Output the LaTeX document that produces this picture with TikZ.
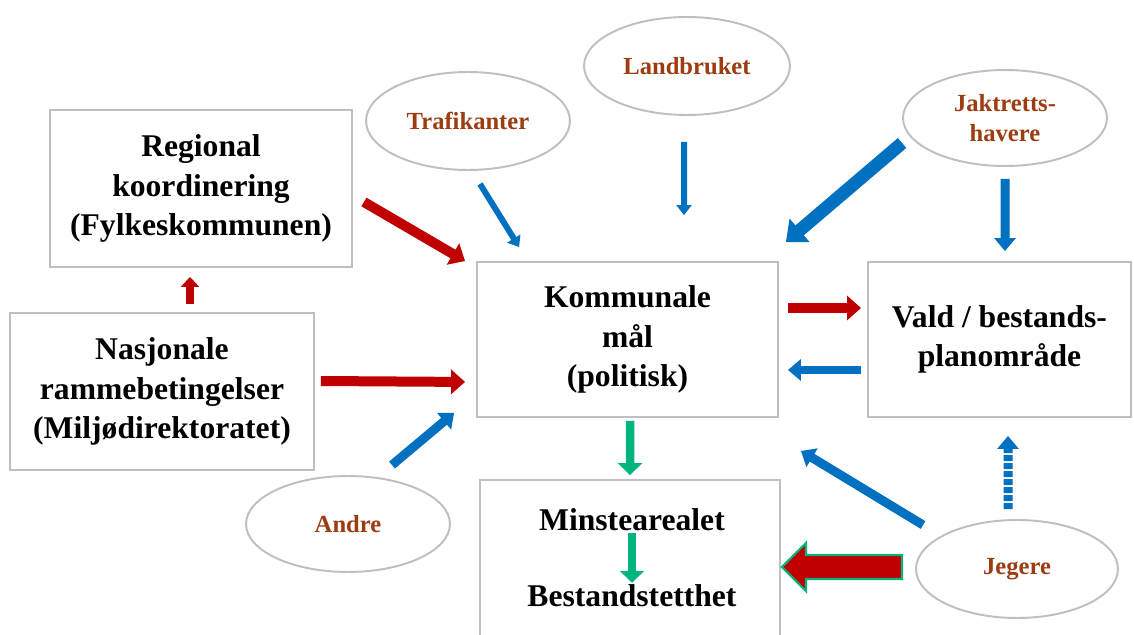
\documentclass[tikz,border=0pt]{standalone}
\usepackage{fontspec}
\setmainfont{Liberation Serif}
\usetikzlibrary{shapes.geometric, shapes.arrows, arrows.meta, positioning, calc}
\definecolor{framegray}{RGB}{191,191,191}
\definecolor{arrred}{RGB}{192,0,0}
\definecolor{arrblue}{RGB}{0,112,192}
\definecolor{arrgreen}{RGB}{0,180,125}
\definecolor{labelbrown}{RGB}{156,60,16}

\begin{document}
\begin{tikzpicture}[
    x=0.02cm, y=-0.02cm,
    box/.style={rectangle, draw=framegray, line width=1.1pt, fill=white, align=center,
                font=\fontsize{18}{22.5}\selectfont\bfseries},
    oval/.style={ellipse, draw=framegray, line width=1.1pt, fill=white, align=center, inner sep=0pt,
                 text=labelbrown, font=\fontsize{14}{17}\selectfont\bfseries},
    plain/.style={inner sep=1pt, font=\fontsize{18}{22.5}\selectfont\bfseries},
    redarr/.style={draw=arrred, line width=0.2cm, -{Triangle[length=0.28cm, width=0.48cm]}},
    bluethin/.style={draw=arrblue, line width=0.12cm, -{Triangle[length=0.2cm, width=0.3cm]}},
    bluearr/.style={draw=arrblue, line width=0.18cm, -{Triangle[length=0.26cm, width=0.42cm]}},
    bluethick/.style={draw=arrblue, line width=0.26cm, -{Triangle[length=0.36cm, width=0.6cm]}},
    greenarr/.style={draw=arrgreen, line width=0.17cm, -{Triangle[length=0.24cm, width=0.48cm]}},
    bigarr/.style={single arrow, shape border rotate=180, fill=arrred, draw=arrgreen, line width=1.2pt,
                   inner sep=0.22cm, minimum height=2.4cm, minimum width=0.92cm,
                   single arrow head extend=0.24cm}
]
    \path[use as bounding box, fill=white] (0,0) rectangle (1134,635);

    % boxes
    \node[box, minimum width=6.04cm, minimum height=3.14cm] (reg) at (201,188.5) {Regional\\koordinering\\(Fylkeskommunen)};
    \node[box, minimum width=6.08cm, minimum height=3.14cm] (nas) at (162,391.5) {Nasjonale\\rammebetingelser\\(Miljødirektoratet)};
    \node[box, minimum width=6.02cm, minimum height=3.1cm] (kom) at (627.5,339.5) {Kommunale\\mål\\(politisk)};
    \node[box, minimum width=5.26cm, minimum height=3.1cm] (vald) at (999.5,339.5) {Vald / bestands-\\planområde};
    \node[box, minimum width=6cm, minimum height=3.4cm] (min) at (630,565) {};
    \node[plain] (minA) at (632,520) {Minstearealet};
    \node[plain] (bes) at (632,596) {Bestandstetthet};

    % actors
    \node[oval, minimum width=4.08cm, minimum height=1.96cm] (traf) at (468,121) {Trafikanter};
    \node[oval, minimum width=4.12cm, minimum height=1.96cm] (land) at (687,66) {Landbruket};
    \node[oval, minimum width=4.08cm, minimum height=1.92cm] (jakt) at (1005,118) {Jaktretts-\\havere};
    \node[oval, minimum width=4.08cm, minimum height=1.92cm] (andre) at (348,524) {Andre};
    \node[oval, minimum width=4.04cm, minimum height=1.96cm] (jeg) at (1017,569) {Jegere};

    % arrows
    \draw[redarr] ($(reg.east)+(11,13.5)$) -- ($(kom.north west)+(-11,0)$);
    \draw[redarr] ($(nas.east)+(6,-10.5)$) -- ($(kom.south west)+(-11,-36)$);
    \draw[draw=arrred, line width=0.16cm, -{Triangle[length=0.2cm, width=0.36cm]}] ($(nas.north)+(28,-8)$) -- ($(reg.south)+(-11,9)$);
    \draw[redarr] ($(kom.east)+(9,-31.5)$) -- ($(vald.west)+(-6,-31.5)$);
    \draw[bluearr] ($(vald.west)+(-6,30.5)$) -- ($(kom.east)+(9,30.5)$);
    \draw[bluethin] ($(traf.south)+(12,13)$) -- ($(kom.north west)+(43,-14)$);
    \draw[bluethin] ($(land.south)+(-3,26)$) -- ($(kom.north)+(56.5,-46)$);
    \draw[bluethick] ($(jakt.west)+(0,25)$) -- ($(kom.north east)+(7,-19)$);
    \draw[bluearr] ($(jakt.south)+(0,12)$) -- ($(vald.north)+(5.5,-10)$);
    \draw[bluearr] ($(andre.north)+(44,-10)$) -- ($(kom.south west)+(-22,-5)$);
    \draw[bluearr] ($(jeg.west)+(8,-44)$) -- ($(kom.south east)+(22,33)$);
    \draw[bluearr, dash pattern=on 0.12cm off 0.04cm] ($(jeg.north)+(-9,-10)$) -- ($(vald.south)+(8.5,18)$);
    \draw[greenarr] ($(kom.south)+(2.5,3)$) -- ($(min.north)+(0,-4)$);
    \draw[greenarr] (minA.south) -- (bes.north);
    \node[bigarr] (jegmin) at ($(jeg.west)!0.5!(min.east)$) {};
\end{tikzpicture}
\end{document}
